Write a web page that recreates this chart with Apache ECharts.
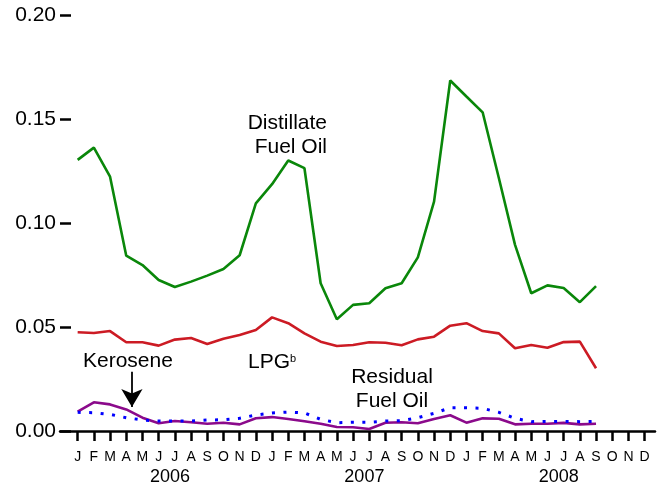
<!DOCTYPE html>
<html>
<head>
<meta charset="utf-8">
<script src="https://cdn.jsdelivr.net/npm/echarts@6/dist/echarts.min.js"></script>
<style>
html,body{margin:0;padding:0;background:#fff;}
#c{width:665px;height:487px;}
</style>
</head>
<body>
<div id="c"></div>
<script>
// ---- data ----
var monthLabels = ['J','F','M','A','M','J','J','A','S','O','N','D'];
var yearLabels = ['2006','2007','2008'];
var yTickValues = [0, 0.05, 0.10, 0.15, 0.20];

var distillate = [0.1305,0.1364,0.1224,0.0844,0.0799,0.0727,0.0693,0.0719,0.0748,0.0780,0.0846,0.1096,
                  0.1188,0.1302,0.1265,0.0711,0.0538,0.0607,0.0615,0.0687,0.0711,0.0836,0.1104,0.1687,
                  0.1610,0.1534,0.1218,0.0896,0.0663,0.0701,0.0688,0.0620,0.0697];
var lpg = [0.0475,0.0472,0.0481,0.0427,0.0427,0.0411,0.0440,0.0448,0.0419,0.0444,0.0462,0.0486,
           0.0547,0.0519,0.0470,0.0430,0.0409,0.0414,0.0427,0.0425,0.0413,0.0441,0.0454,0.0507,
           0.0519,0.0481,0.0470,0.0398,0.0414,0.0401,0.0428,0.0430,0.0302];
var kerosene = [0.0093,0.0138,0.0128,0.0104,0.0064,0.0037,0.0048,0.0042,0.0035,0.0040,0.0032,0.0061,
                0.0067,0.0058,0.0047,0.0035,0.0019,0.0018,0.0010,0.0040,0.0042,0.0037,0.0058,0.0076,
                0.0040,0.0061,0.0059,0.0032,0.0035,0.0035,0.0039,0.0032,0.0035];
var residual = [0.0090,0.0088,0.0080,0.0064,0.0053,0.0048,0.0048,0.0048,0.0053,0.0054,0.0061,0.0077,
                0.0087,0.0091,0.0087,0.0056,0.0040,0.0042,0.0042,0.0048,0.0050,0.0064,0.0085,0.0112,
                0.0112,0.0109,0.0090,0.0061,0.0045,0.0046,0.0046,0.0045,0.0046];

// ---- helpers ----
function pairs(arr){ return arr.map(function(v,i){ return [i,v]; }); }
var nMonths = 36;
var monthTicks = [];
for (var i = 0; i < nMonths; i++) monthTicks.push(i);
var yearPos = yearLabels.map(function(y,k){ return k*12 + 5.7; });

var FONT = "'Liberation Sans', Arial, sans-serif";
var chart = echarts.init(document.getElementById('c'), null, {renderer:'canvas'});

var option = {
  animation: false,
  backgroundColor: '#fff',
  grid: {left: 60, right: 10, top: 15.5, bottom: 56, containLabel: false},
  xAxis: [{
    type: 'value', min: -1.09, max: 35.64,
    axisLine: {show: true, onZero: false, lineStyle: {color: '#000', width: 2.5}},
    axisTick: {show: true, customValues: monthTicks, length: 10, lineStyle: {color:'#000', width: 2.5}},
    axisLabel: {show: true, customValues: monthTicks, margin: 19, color: '#000', fontSize: 14, fontFamily: FONT,
      formatter: function(v){ return monthLabels[Math.round(v) % 12]; }},
    splitLine: {show: false}
  },{
    type: 'value', min: -1.09, max: 35.64, position: 'bottom',
    axisLine: {show: false, onZero: false}, axisTick: {show: false},
    axisLabel: {show: true, customValues: yearPos, margin: 37, color:'#000', fontSize: 18, fontFamily: FONT,
      formatter: function(v){ return yearLabels[Math.floor(v/12)]; }},
    splitLine: {show: false}
  }],
  yAxis: {
    type: 'value', min: 0, max: 0.2, interval: 0.05,
    axisLine: {show: false, onZero: false},
    axisTick: {show: true, inside: true, length: 11, lineStyle: {color:'#000', width: 2.5}},
    axisLabel: {color:'#000', fontSize: 21, fontFamily: FONT, margin: 4,
      formatter: function(v){ return v.toFixed(2); }},
    splitLine: {show: false}
  },
  series: [
    {type:'line', name:'Distillate Fuel Oil', data: pairs(distillate), showSymbol:false, symbol:'none',
     lineStyle:{color:'#0a870a', width:2.6}, z: 3},
    {type:'line', name:'LPG', data: pairs(lpg), showSymbol:false, symbol:'none',
     lineStyle:{color:'#cc1b24', width:2.6}, z: 3},
    {type:'line', name:'Kerosene', data: pairs(kerosene), showSymbol:false, symbol:'none',
     lineStyle:{color:'#8b0a8b', width:2.6}, z: 3,
     markLine: {silent: true, animation: false, symbol: ['none','arrow'], symbolSize: [16, 18],
       lineStyle: {color:'#000', width: 1.8, type:'solid'}, label: {show:false},
       emphasis: {disabled: true},
       data: [[{coord:[3.35, 0.0285]}, {coord:[3.35, 0.0115]}]]}},
    {type:'line', name:'Residual Fuel Oil', data: pairs(residual), showSymbol:false, symbol:'none',
     lineStyle:{color:'#0000ff', width:3, type:[3,8.5], cap:'butt'}, z: 4}
  ],
  graphic: [
    {type:'text', x: 327, y: 135.5, style:{text:'Distillate\nFuel Oil', fill:'#000', font: '21px ' + FONT,
      textAlign:'right', textVerticalAlign:'middle', lineHeight: 24}},
    {type:'text', x: 392, y: 389, style:{text:'Residual\nFuel Oil', fill:'#000', font: '21px ' + FONT,
      textAlign:'center', textVerticalAlign:'middle', lineHeight: 24}},
    {type:'text', x: 83, y: 361, style:{text:'Kerosene', fill:'#000', font: '21px ' + FONT,
      textAlign:'left', textVerticalAlign:'middle'}},
    {type:'text', x: 248, y: 362.5, style:{text:'LPG', fill:'#000', font: '21px ' + FONT,
      textAlign:'left', textVerticalAlign:'middle'}},
    {type:'text', x: 290, y: 359, style:{text:'b', fill:'#000', font: '11px ' + FONT,
      textAlign:'left', textVerticalAlign:'middle'}}
  ]
};
chart.setOption(option);
</script>
</body>
</html>
